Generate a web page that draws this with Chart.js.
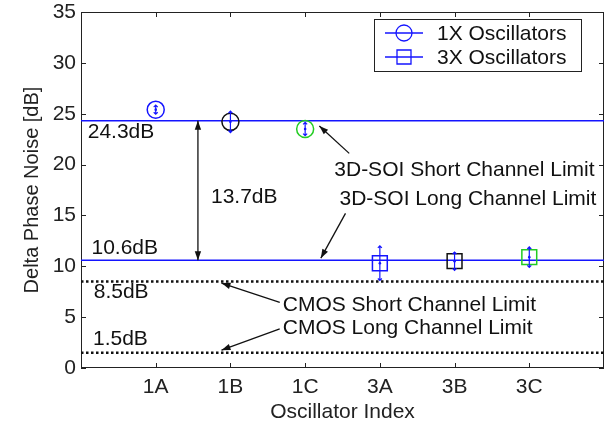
<!DOCTYPE html>
<html>
<head>
<meta charset="utf-8">
<script src="https://cdn.jsdelivr.net/npm/chart.js@4.4.0/dist/chart.umd.min.js"></script>
<style>
  html, body { margin: 0; padding: 0; background: #fff; }
  #wrap { width: 616px; height: 425px; }
</style>
</head>
<body>
<div id="wrap"><canvas id="phaseChart" width="616" height="425"></canvas></div>
<script>
// --- data ---
const categories = ['1A', '1B', '1C', '3A', '3B', '3C'];
const xPos = [1, 2, 3, 4, 5, 6];
const osc1X = [25.4, 24.2, 23.5];
const osc1XErr = [0.45, 1.05, 0.65];
const osc3X = [10.3, 10.5, 10.9];
const osc3XErr = [1.7, 0.9, 1.0];
const markerColors = ['#1414ff', '#111111', '#22cc22'];
const soiLimits = [24.3, 10.6];   // short, long channel
const cmosLimits = [8.5, 1.5];    // short, long channel
const yTicks = [0, 5, 10, 15, 20, 25, 30, 35];

// text notes, placed in data units
const notes = [
  { text: '24.3dB', x: 0.09, y: 23.2 },
  { text: '10.6dB', x: 0.14, y: 11.8 },
  { text: '8.5dB', x: 0.17, y: 7.45 },
  { text: '1.5dB', x: 0.16, y: 2.85 },
  { text: '13.7dB', x: 1.74, y: 16.8 },
  { text: '3D-SOI Short Channel Limit', x: 3.39, y: 19.4 },
  { text: '3D-SOI Long Channel Limit', x: 3.46, y: 16.6 },
  { text: 'CMOS Short Channel Limit', x: 2.70, y: 6.2 },
  { text: 'CMOS Long Channel Limit', x: 2.70, y: 3.95 }
];
const arrows = [
  { from: [3.59, 21.1], to: [3.19, 23.8] },
  { from: [3.54, 15.2], to: [3.21, 10.8] },
  { from: [2.66, 6.45], to: [1.88, 8.35] },
  { from: [2.66, 3.85], to: [1.88, 1.75] }
];
const gapX = 1.565; // double arrow between the two 3D-SOI limits

const BLUE = '#1414ff';
const FONT = "'Liberation Sans', Arial, Helvetica, sans-serif";

function arrowHead(ctx, x0, y0, x1, y1) {
  const a = Math.atan2(y1 - y0, x1 - x0);
  const len = 9, half = 3.2;
  ctx.beginPath();
  ctx.moveTo(x1, y1);
  ctx.lineTo(x1 - len * Math.cos(a) + half * Math.sin(a), y1 - len * Math.sin(a) - half * Math.cos(a));
  ctx.lineTo(x1 - len * Math.cos(a) - half * Math.sin(a), y1 - len * Math.sin(a) + half * Math.cos(a));
  ctx.closePath();
  ctx.fill();
}

// box around the plot with inward ticks on all four sides
const framePlugin = {
  id: 'frame',
  beforeDatasetsDraw(chart) {
    const { ctx, chartArea: a, scales } = chart;
    ctx.save();
    ctx.strokeStyle = '#222';
    ctx.lineWidth = 1;
    ctx.strokeRect(a.left + 0.5, a.top + 0.5, a.right - a.left - 1, a.bottom - a.top - 1);
    ctx.beginPath();
    xPos.forEach(v => {
      const px = Math.round(scales.x.getPixelForValue(v)) + 0.5;
      ctx.moveTo(px, a.bottom); ctx.lineTo(px, a.bottom - 5);
      ctx.moveTo(px, a.top); ctx.lineTo(px, a.top + 5);
    });
    yTicks.forEach(v => {
      const py = Math.round(scales.y.getPixelForValue(v)) + 0.5;
      ctx.moveTo(a.left, py); ctx.lineTo(a.left + 5, py);
      ctx.moveTo(a.right, py); ctx.lineTo(a.right - 5, py);
    });
    ctx.stroke();
    ctx.restore();
  }
};

// error bars, notes, arrows and legend
const overlayPlugin = {
  id: 'overlay',
  afterDatasetsDraw(chart) {
    const { ctx, scales } = chart;
    const X = v => scales.x.getPixelForValue(v);
    const Y = v => scales.y.getPixelForValue(v);
    ctx.save();

    // error bars
    ctx.strokeStyle = BLUE;
    ctx.fillStyle = BLUE;
    ctx.lineWidth = 1.2;
    const bars = osc1X.map((v, i) => [xPos[i], v, osc1XErr[i]])
      .concat(osc3X.map((v, i) => [xPos[i + 3], v, osc3XErr[i]]));
    bars.forEach(([x, v, e]) => {
      const px = X(x), top = Y(v + e), bot = Y(v - e);
      ctx.beginPath();
      ctx.moveTo(px, top); ctx.lineTo(px, bot);
      ctx.moveTo(px - 2, top + 2); ctx.lineTo(px, top); ctx.lineTo(px + 2, top + 2);
      ctx.moveTo(px - 2, bot - 2); ctx.lineTo(px, bot); ctx.lineTo(px + 2, bot - 2);
      ctx.stroke();
      ctx.beginPath();
      ctx.arc(px, Y(v), 1.3, 0, Math.PI * 2);
      ctx.fill();
    });

    // notes
    ctx.fillStyle = '#111';
    ctx.font = '21px ' + FONT;
    ctx.textAlign = 'left';
    ctx.textBaseline = 'middle';
    notes.forEach(n => ctx.fillText(n.text, X(n.x), Y(n.y)));

    // pointer arrows
    ctx.strokeStyle = '#111';
    ctx.lineWidth = 1.3;
    arrows.forEach(ar => {
      const x0 = X(ar.from[0]), y0 = Y(ar.from[1]);
      const x1 = X(ar.to[0]), y1 = Y(ar.to[1]);
      ctx.beginPath(); ctx.moveTo(x0, y0); ctx.lineTo(x1, y1); ctx.stroke();
      arrowHead(ctx, x0, y0, x1, y1);
    });

    // double arrow for the 13.7dB gap
    const gx = X(gapX), gt = Y(soiLimits[0]), gb = Y(soiLimits[1]);
    ctx.beginPath(); ctx.moveTo(gx, gt); ctx.lineTo(gx, gb); ctx.stroke();
    arrowHead(ctx, gx, gb, gx, gt);
    arrowHead(ctx, gx, gt, gx, gb);

    // legend
    const lx = 374, ly = 19, lw = 207, lh = 52;
    ctx.fillStyle = '#fff';
    ctx.fillRect(lx, ly, lw, lh);
    ctx.strokeStyle = '#222';
    ctx.lineWidth = 1;
    ctx.strokeRect(lx + 0.5, ly + 0.5, lw, lh);
    const rows = [['1X Oscillators', 'circle'], ['3X Oscillators', 'rect']];
    rows.forEach(([label, shape], i) => {
      const ry = ly + 14 + i * 24;
      ctx.strokeStyle = BLUE;
      ctx.lineWidth = 1.3;
      ctx.beginPath(); ctx.moveTo(385, ry); ctx.lineTo(423, ry); ctx.stroke();
      ctx.beginPath();
      if (shape === 'circle') ctx.arc(404, ry, 8, 0, Math.PI * 2);
      else ctx.rect(397, ry - 7, 14, 14);
      ctx.stroke();
      ctx.fillStyle = '#111';
      ctx.fillText(label, 437, ry + 1);
    });
    ctx.restore();
  }
};

const limitLine = (v, color, dash, width) => ({
  type: 'line',
  data: [{ x: 0, y: v }, { x: 7, y: v }],
  borderColor: color,
  borderWidth: width,
  borderDash: dash,
  pointRadius: 0,
  fill: false
});

const tickFont = { family: FONT, size: 21, lineHeight: 1 };

new Chart(document.getElementById('phaseChart'), {
  type: 'scatter',
  data: {
    datasets: [
      {
        label: '1X Oscillators',
        data: osc1X.map((v, i) => ({ x: xPos[i], y: v })),
        pointStyle: 'circle',
        pointRadius: 8.5,
        pointBorderWidth: 1.5,
        pointBorderColor: markerColors,
        pointBackgroundColor: 'rgba(0,0,0,0)'
      },
      {
        label: '3X Oscillators',
        data: osc3X.map((v, i) => ({ x: xPos[i + 3], y: v })),
        pointStyle: 'rect',
        pointRadius: 10.5,
        pointBorderWidth: 1.5,
        pointBorderColor: markerColors,
        pointBackgroundColor: 'rgba(0,0,0,0)'
      },
      limitLine(soiLimits[0], BLUE, [], 1.5),
      limitLine(soiLimits[1], BLUE, [], 1.5),
      limitLine(cmosLimits[0], '#111', [2.5, 2.5], 2.5),
      limitLine(cmosLimits[1], '#111', [2.5, 2.5], 2.5)
    ]
  },
  options: {
    responsive: false,
    animation: false,
    layout: { padding: { top: 11, right: 4, left: 20, bottom: 0 } },
    plugins: { legend: { display: false }, tooltip: { enabled: false } },
    scales: {
      x: {
        type: 'linear',
        min: 0,
        max: 7,
        afterBuildTicks: s => { s.ticks = xPos.map(v => ({ value: v })); },
        afterFit: s => { s.height = 57; s.paddingLeft = 0; s.paddingRight = 0; },
        grid: { display: false, drawTicks: false },
        border: { display: false },
        ticks: {
          color: '#222',
          font: tickFont,
          padding: 9,
          maxRotation: 0,
          callback: v => categories[xPos.indexOf(v)]
        },
        title: { display: true, text: 'Oscillator Index', color: '#222', font: { family: FONT, size: 21 }, padding: { top: 0, bottom: 0 } }
      },
      y: {
        min: 0,
        max: 35,
        afterBuildTicks: s => { s.ticks = yTicks.map(v => ({ value: v })); },
        afterFit: s => { s.width = 61; s.paddingTop = 0; s.paddingBottom = 0; },
        grid: { display: false, drawTicks: false },
        border: { display: false },
        ticks: { color: '#222', font: tickFont, padding: 5 },
        title: { display: true, text: 'Delta Phase Noise [dB]', color: '#222', font: { family: FONT, size: 20 }, padding: { top: 0, bottom: 0 } }
      }
    }
  },
  plugins: [framePlugin, overlayPlugin]
});
</script>
</body>
</html>
